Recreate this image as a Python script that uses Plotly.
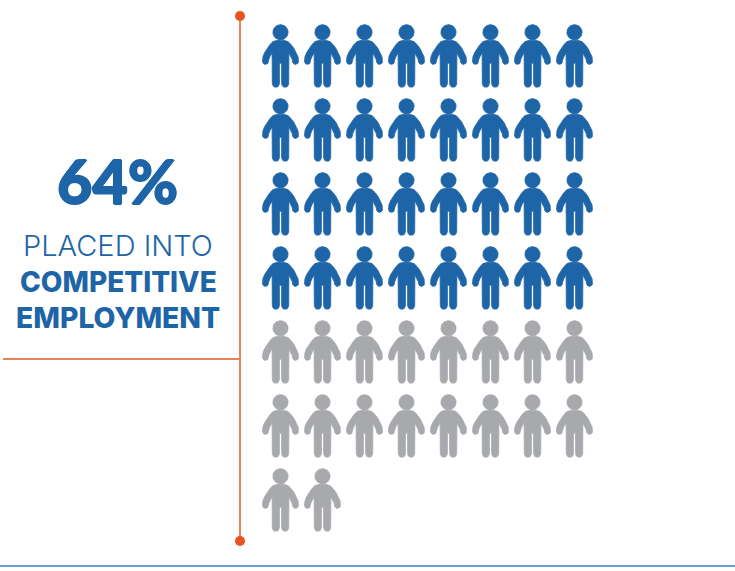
import numpy as np
import plotly.graph_objects as go

# Headline figures and the people grid
headline = "64%"
caption_lines = ["PLACED INTO", "COMPETITIVE", "EMPLOYMENT"]
placed_count = 32
not_placed_count = 18
columns = 8

BLUE = "#1e65a8"
GRAY = "#a7a9ac"
ORANGE_LINE = "#e98257"
ORANGE_DOT = "#e8531f"
RULE_BLUE = "#6c9bd2"

W, H = 735, 571
GRID_X0, GRID_Y0 = 280.5, 32.3
STEP_X, STEP_Y = 42.0, 74.0


def arc(cx, cy, r, a0, a1, n=10):
    t = np.radians(np.linspace(a0, a1, n))
    return list(zip(cx + r * np.cos(t), cy + r * np.sin(t)))


def person_outline():
    """Closed polygons for one figure, relative to the head centre (y grows down)."""
    head = arc(0, 0, 7.6, 0, 360, 32)
    right = [(0, 8.2), (4, 8.2), (7.5, 9.3), (10.5, 12.2), (13.5, 16.2), (16, 20.5), (17.6, 24.6)]
    right += arc(15.0, 29.0, 3.1, -25, 165, 9)
    right += [(11.8, 27.5), (10.6, 24.5), (9.4, 22.0), (8.4, 20.6), (8.2, 51.5)]
    right += arc(4.65, 51.5, 3.55, 0, 180, 9)
    right += [(1.1, 31.0), (0, 31.0)]
    left = [(-x, y) for x, y in reversed(right)]
    return [head, right + left[1:]]


def grid_traces(start, count, color):
    xs, ys = [], []
    for i in range(start, start + count):
        row, col = divmod(i, columns)
        ox = GRID_X0 + col * STEP_X
        oy = GRID_Y0 + row * STEP_Y
        for poly in person_outline():
            xs += [ox + p[0] for p in poly] + [None]
            ys += [oy + p[1] for p in poly] + [None]
    return go.Scatter(x=xs, y=ys, mode="lines", fill="toself", fillcolor=color,
                      line=dict(color=color, width=0.8), hoverinfo="skip", showlegend=False)


fig = go.Figure()

# Orange bracket and the bottom rule
fig.add_trace(go.Scatter(x=[240, 240], y=[16, 541], mode="lines",
                         line=dict(color=ORANGE_LINE, width=2), hoverinfo="skip", showlegend=False))
fig.add_trace(go.Scatter(x=[3, 240], y=[359, 359], mode="lines",
                         line=dict(color=ORANGE_LINE, width=1.8), hoverinfo="skip", showlegend=False))
fig.add_trace(go.Scatter(x=[240, 240], y=[16, 541], mode="markers",
                         marker=dict(color=ORANGE_DOT, size=10), hoverinfo="skip", showlegend=False))
fig.add_trace(go.Scatter(x=[0, W], y=[566, 566], mode="lines",
                         line=dict(color=RULE_BLUE, width=2), hoverinfo="skip", showlegend=False))

fig.add_trace(grid_traces(0, placed_count, BLUE))
fig.add_trace(grid_traces(placed_count, not_placed_count, GRAY))

# A tight same-colour shadow gives the headline its extra-heavy weight
heavy = f"0.8px 0 0 {BLUE}, -0.8px 0 0 {BLUE}, 0 0.8px 0 {BLUE}, 0 -0.8px 0 {BLUE}"
fig.add_annotation(x=117.5, y=180, text=headline, showarrow=False, xanchor="center", yanchor="middle",
                   font=dict(family="Lato", size=61, color=BLUE, weight=900, shadow=heavy))
fig.add_annotation(x=118, y=245, text=caption_lines[0], showarrow=False, xanchor="center", yanchor="middle",
                   font=dict(family="Inter", size=29, color=BLUE, weight=300))
fig.add_annotation(x=118, y=282, text=caption_lines[1], showarrow=False, xanchor="center", yanchor="middle",
                   font=dict(family="Inter", size=28, color=BLUE, weight=800))
fig.add_annotation(x=117.5, y=318, text=caption_lines[2], showarrow=False, xanchor="center", yanchor="middle",
                   font=dict(family="Inter", size=28.3, color=BLUE, weight=800))

fig.update_layout(
    width=W, height=H, margin=dict(l=0, r=0, t=0, b=0),
    paper_bgcolor="white", plot_bgcolor="white", showlegend=False,
    xaxis=dict(range=[0, W], visible=False, fixedrange=True),
    yaxis=dict(range=[H, 0], visible=False, fixedrange=True),
)

fig.write_html("out.html", config={"displayModeBar": False})
